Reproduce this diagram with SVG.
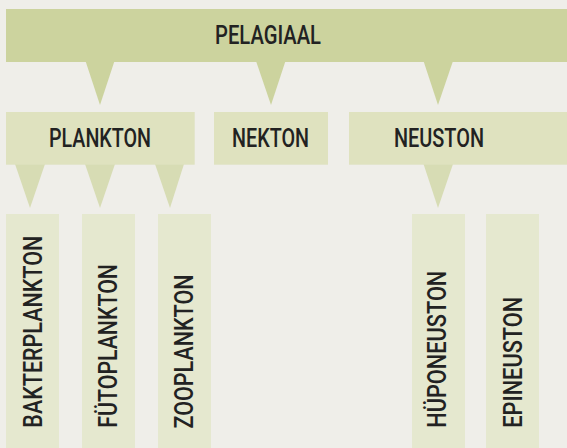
<svg xmlns="http://www.w3.org/2000/svg" width="567" height="448" viewBox="0 0 567 448">
<style>
.bg{fill:#efeee9}
.l1{fill:#ccd39e}
.l2{fill:#dfe2bf}
.l3{fill:#e5e8cf}
.t1{fill:#ccd39e}
.t2{fill:#d7dcb4}
text{font-family:Roboto,"Liberation Sans",sans-serif;font-weight:500;font-size:26px;fill:#222222}
.h{text-anchor:middle}
</style>
<rect class="bg" x="0" y="0" width="567" height="448"/>
<g id="connectors">
<polygon class="t1" points="85.5,61 114.5,61 100,105"/>
<polygon class="t1" points="256,61 285.5,61 271,105"/>
<polygon class="t1" points="423.5,61 453,61 438,105"/>
<polygon class="t2" points="15,164 45,164 30,208"/>
<polygon class="t2" points="85,164 115,164 100,208"/>
<polygon class="t2" points="155,164 184,164 170,208"/>
<polygon class="t2" points="423.5,164 453,164 438,208"/>
</g>
<g id="pelagiaal"><rect class="l1" x="6" y="9" width="561" height="53"/><text class="h" x="268" y="44.3" textLength="106" lengthAdjust="spacingAndGlyphs">PELAGIAAL</text></g>
<g id="plankton"><rect class="l2" x="6" y="112" width="188.7" height="52.7"/><text class="h" x="100" y="147.3" textLength="102" lengthAdjust="spacingAndGlyphs">PLANKTON</text></g>
<g id="nekton"><rect class="l2" x="214" y="112" width="114" height="52.7"/><text class="h" x="270.5" y="147.3" textLength="77" lengthAdjust="spacingAndGlyphs">NEKTON</text></g>
<g id="neuston"><rect class="l2" x="349" y="112" width="218" height="52.7"/><text class="h" x="439" y="147.3" textLength="90" lengthAdjust="spacingAndGlyphs">NEUSTON</text></g>
<g id="bakterplankton"><rect class="l3" x="6" y="214" width="53" height="234"/><text transform="translate(41.7,427.7) rotate(-90)" x="0" y="0" textLength="192" lengthAdjust="spacingAndGlyphs">BAKTERPLANKTON</text></g>
<g id="fytoplankton"><rect class="l3" x="82" y="214" width="53" height="234"/><text transform="translate(116.7,427.7) rotate(-90)" x="0" y="0" textLength="163.7" lengthAdjust="spacingAndGlyphs">FÜTOPLANKTON</text></g>
<g id="zooplankton"><rect class="l3" x="158" y="214" width="53" height="234"/><text transform="translate(192.7,428.5) rotate(-90)" x="0" y="0" textLength="154" lengthAdjust="spacingAndGlyphs">ZOOPLANKTON</text></g>
<g id="hyponeuston"><rect class="l3" x="412" y="214" width="53" height="234"/><text transform="translate(446.3,427.7) rotate(-90)" x="0" y="0" textLength="157" lengthAdjust="spacingAndGlyphs">HÜPONEUSTON</text></g>
<g id="epineuston"><rect class="l3" x="486" y="214" width="53" height="234"/><text transform="translate(521.7,427.7) rotate(-90)" x="0" y="0" textLength="131" lengthAdjust="spacingAndGlyphs">EPINEUSTON</text></g>
</svg>
